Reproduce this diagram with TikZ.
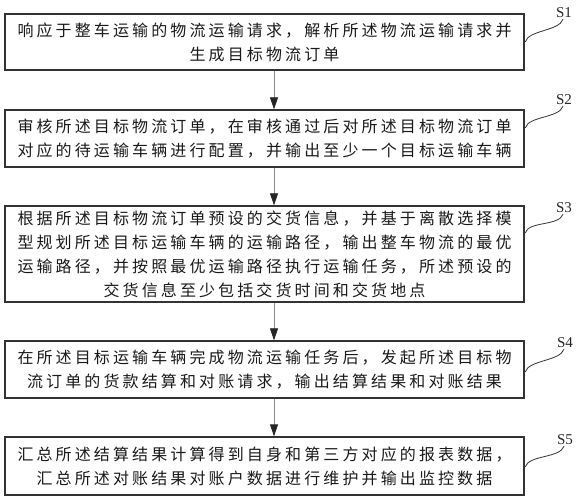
\documentclass[tikz,border=0pt]{standalone}
\usepackage{fontspec}
\setmainfont{Liberation Serif}
\newfontfamily\cjk[LetterSpace=19.5]{Noto Sans CJK SC}
\usetikzlibrary{arrows.meta,calc}
\begin{document}
\begin{tikzpicture}[x=1pt,y=1pt,
  stepbox/.style={draw=black!80, line width=1.3pt, minimum width=519pt, inner sep=0pt, align=center,
    font=\cjk\fontsize{16pt}{24pt}\selectfont, text=black!90},
  flow/.style={draw=black!45, line width=0.8pt, -{Triangle[length=12pt,width=8pt,color=black!85]}},
  lead/.style={draw=black!80, line width=0.8pt},
  tag/.style={font=\fontsize{15pt}{18pt}\selectfont, inner sep=0pt, text=black!85}]
\useasboundingbox (0,0) rectangle (577,500);

\node[stepbox, minimum height=56pt] (b1) at (264.5,458)
  {响应于整车运输的物流运输请求，解析所述物流运输请求并\\生成目标物流订单};
\node[stepbox, minimum height=57pt] (b2) at (264.5,361.5)
  {审核所述目标物流订单，在审核通过后对所述目标物流订单\\对应的待运输车辆进行配置，并输出至少一个目标运输车辆};
\node[stepbox, minimum height=96pt] (b3) at (264.5,246)
  {根据所述目标物流订单预设的交货信息，并基于离散选择模\\型规划所述目标运输车辆的运输路径，输出整车物流的最优\\运输路径，并按照最优运输路径执行运输任务，所述预设的\\交货信息至少包括交货时间和交货地点};
\node[stepbox, minimum height=57pt] (b4) at (264.5,130.5)
  {在所述目标运输车辆完成物流运输任务后，发起所述目标物\\流订单的货款结算和对账请求，输出结算结果和对账结果};
\node[stepbox, minimum height=58pt] (b5) at (264.5,34)
  {汇总所述结算结果计算得到自身和第三方对应的报表数据，\\汇总所述对账结果对账户数据进行维护并输出监控数据};

\node[tag] (s1) at (564,487) {S1};
\node[tag] (s2) at (564,400) {S2};
\node[tag] (s3) at (564,292) {S3};
\node[tag] (s4) at (565,157) {S4};
\node[tag] (s5) at (565,60) {S5};

\draw[flow] ($(b1.south)+(9.5,0)$) -- ($(b2.north)+(9.5,0)$);
\draw[flow] ($(b2.south)+(9.5,0)$) -- ($(b3.north)+(9.5,0)$);
\draw[flow] ($(b3.south)+(9.5,0)$) -- ($(b4.north)+(9.5,0)$);
\draw[flow] ($(b4.south)+(9.5,0)$) -- ($(b5.north)+(9.5,0)$);

\coordinate (e1) at ($(b1.east)+(0.6,0)$);
\coordinate (e2) at ($(b2.east)+(0.6,10.5)$);
\coordinate (e3) at ($(b3.east)+(0.6,21)$);
\coordinate (e4) at ($(b4.east)+(0.6,-2.5)$);
\coordinate (e5) at ($(b5.east)+(0.6,-1)$);
\foreach \i in {1,...,5}{
  \draw[lead] (e\i) .. controls ($(e\i)+(3,12)$) and ($(s\i.south)+(-5,-13)$) .. ($(s\i.south)+(-1,-1)$);
}
\end{tikzpicture}
\end{document}
